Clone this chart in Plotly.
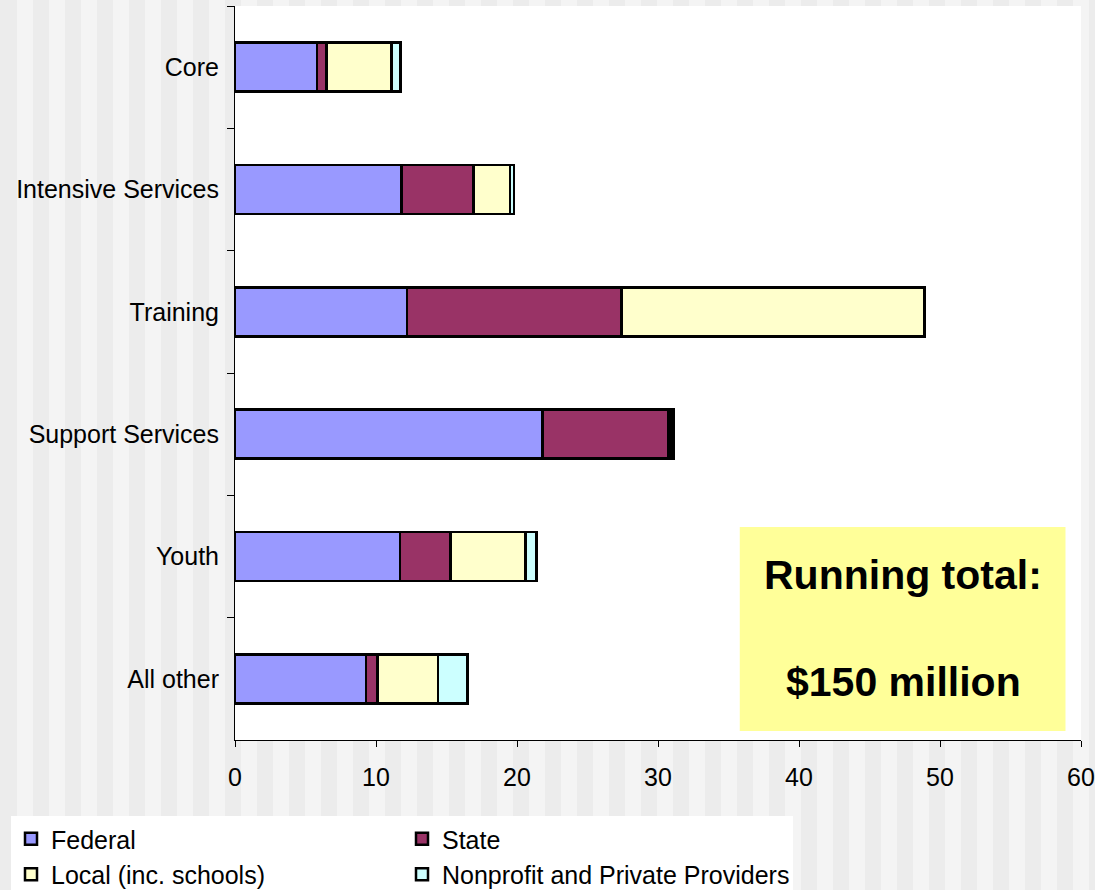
import plotly.graph_objects as go

# Spending by service area, millions of dollars, split by funding source
categories = ["Core", "Intensive Services", "Training", "Support Services", "Youth", "All other"]
federal = [5.8, 11.8, 12.2, 21.8, 11.7, 9.3]
state = [0.7, 5.1, 15.2, 8.9, 3.6, 0.8]
local = [4.6, 2.6, 21.5, 0.2, 5.3, 4.3]
nonprofit = [0.65, 0.3, 0.0, 0.2, 0.8, 2.1]

series_names = ["Federal", "State", "Local (inc. schools)", "Nonprofit and Private Providers"]
series_values = [federal, state, local, nonprofit]
series_colors = ["#9999FF", "#993366", "#FFFFCC", "#CCFFFF"]

x_ticks = [0, 10, 20, 30, 40, 50, 60]
box_lines = ["Running total:", "$150 million"]

FONT = "Liberation Sans, Arial, sans-serif"

W, H = 1095, 890
ML, MR, MT, MB = 235, 14, 6, 150
PW = W - ML - MR
PH = H - MT - MB

fig = go.Figure()
for name, vals, col in zip(series_names, series_values, series_colors):
    fig.add_trace(go.Bar(
        y=categories, x=vals, name=name, orientation="h",
        marker=dict(color=col, line=dict(color="black", width=2.5)),
    ))


def px_to_paper_x(px):
    return (px - ML) / PW


def px_to_paper_y(py):
    return (H - MB - py) / PH


# Striped slide background: darker base with lighter 16px bands
shapes = []
x = 17
while x < W:
    shapes.append(dict(
        type="rect", xref="paper", yref="paper", layer="below",
        x0=px_to_paper_x(x), x1=px_to_paper_x(min(x + 16, W)),
        y0=px_to_paper_y(H), y1=px_to_paper_y(0),
        fillcolor="#F4F4F4", line=dict(width=0),
    ))
    x += 32
# White plotting area on top of the stripes
shapes.append(dict(
    type="rect", xref="paper", yref="paper", layer="below",
    x0=0, x1=1, y0=0, y1=1, fillcolor="white", line=dict(width=0),
))
# Yellow call-out box
shapes.append(dict(
    type="rect", xref="x", yref="paper", layer="above",
    x0=35.8, x1=58.9, y0=px_to_paper_y(731), y1=px_to_paper_y(527),
    fillcolor="#FFFF99", line=dict(width=0),
))

annotations = [
    dict(x=47.4, y=px_to_paper_y(600), xref="x", yref="paper", text=box_lines[0],
         showarrow=False, font=dict(family=FONT, size=41, color="black", weight="bold")),
    dict(x=47.4, y=px_to_paper_y(707), xref="x", yref="paper", text=box_lines[1],
         showarrow=False, font=dict(family=FONT, size=41, color="black", weight="bold")),
]

fig.update_layout(
    width=W, height=H,
    margin=dict(l=ML, r=MR, t=MT, b=MB, pad=0, autoexpand=False),
    barmode="stack", bargap=0.6,
    paper_bgcolor="#ECECEC", plot_bgcolor="rgba(0,0,0,0)",
    shapes=shapes, annotations=annotations,
    showlegend=True,
    legend=dict(
        orientation="h", x=px_to_paper_x(11), y=px_to_paper_y(816),
        xanchor="left", yanchor="top", bgcolor="white",
        font=dict(family=FONT, size=25, color="black"),
        entrywidth=346, traceorder="normal",
    ),
    xaxis=dict(
        range=[0, 60], tickvals=x_ticks, ticks="outside", ticklen=6,
        tickcolor="black", showline=True, linecolor="black", linewidth=1,
        showgrid=False, zeroline=False, automargin=False,
        ticklabeloverflow="allow", ticklabelstandoff=9,
        tickfont=dict(family=FONT, size=25, color="black"),
    ),
    yaxis=dict(
        categoryorder="array", categoryarray=categories, autorange="reversed",
        tickson="boundaries", ticks="outside", ticklen=7, tickcolor="black",
        showline=True, linecolor="black", linewidth=1, showgrid=False,
        automargin=False, ticklabelstandoff=10,
        tickfont=dict(family=FONT, size=25, color="black"),
    ),
)

fig.write_html("out.html")
